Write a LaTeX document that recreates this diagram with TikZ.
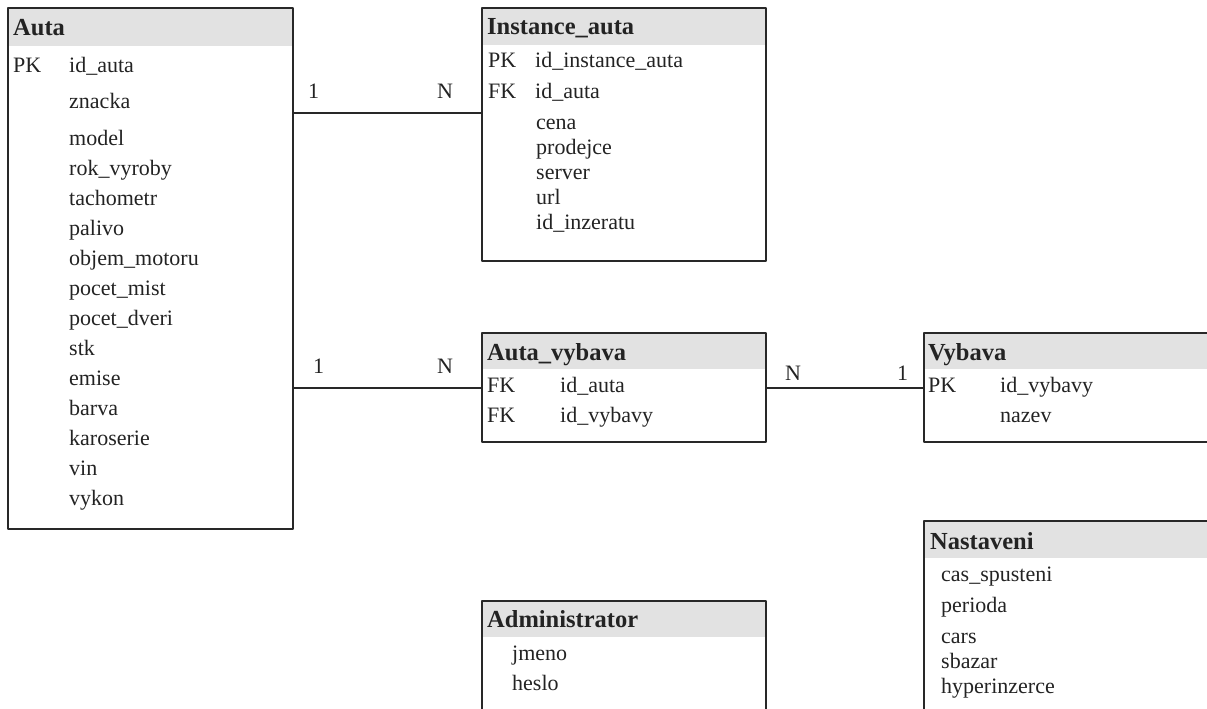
\documentclass[tikz,border=0pt]{standalone}
\usepackage{fontspec}
\setmainfont{Liberation Serif}
\definecolor{hdrgray}{RGB}{226,226,226}
\definecolor{linegray}{RGB}{40,40,40}
\definecolor{inkgray}{RGB}{35,35,35}

\begin{document}
\begin{tikzpicture}[x=1pt,y=-1pt,line cap=round,line join=round,
    tbl/.style={draw=linegray,line width=1.4pt,anchor=north west,inner sep=0pt,outer sep=0pt},
    hdr/.style={fill=hdrgray,anchor=north west,inner sep=0pt,outer sep=0pt},
    ttl/.style={anchor=base west,inner sep=0pt,font=\fontsize{24.5}{28}\selectfont\bfseries,text=inkgray},
    fld/.style={anchor=base west,inner sep=0pt,font=\fontsize{22}{26}\selectfont,text=inkgray},
    rel/.style={draw=linegray,line width=1.4pt}]
        \useasboundingbox (0,0) rectangle (1207,709);

        % Auta
        \node[hdr,minimum width=285pt,minimum height=38pt] (auta-h) at (8,8) {};
        \node[tbl,minimum width=285pt,minimum height=521pt] (auta) at (8,8) {};
        \node[ttl] (auta-t) at (13,36) {Auta};
        \node[fld] (auta-pk) at (13,73) {PK};
        \node[fld] (auta-1) at (69,73) {id\_auta};
        \node[fld] (auta-2) at (69,108) {znacka};
        \foreach \f [count=\i from 3] in {model,rok\_vyroby,tachometr,palivo,
            objem\_motoru,pocet\_mist,pocet\_dveri,stk,emise,barva,karoserie,vin,vykon}
            \node[fld] (auta-\i) at (69,{145+30*(\i-3)}) {\f};

        % Instance_auta
        \node[hdr,minimum width=284pt,minimum height=37pt] (inst-h) at (482,8) {};
        \node[tbl,minimum width=284pt,minimum height=253pt] (inst) at (482,8) {};
        \node[ttl] (inst-t) at (487,35) {Instance\_auta};
        \node[fld] (inst-pk) at (488,67) {PK};
        \node[fld] (inst-1) at (535,67) {id\_instance\_auta};
        \node[fld] (inst-fk) at (488,99) {FK};
        \node[fld] (inst-2) at (535,99) {id\_auta};
        \foreach \f [count=\i from 3] in {cena,prodejce,server,url,id\_inzeratu}
            \node[fld] (inst-\i) at (536,{129+25*(\i-3)}) {\f};

        % Auta_vybava
        \node[hdr,minimum width=284pt,minimum height=36pt] (av-h) at (482,333) {};
        \node[tbl,minimum width=284pt,minimum height=109pt] (av) at (482,333) {};
        \node[ttl] (av-t) at (487,360) {Auta\_vybava};
        \node[fld] (av-fk1) at (487,392) {FK};
        \node[fld] (av-1) at (560,392) {id\_auta};
        \node[fld] (av-fk2) at (487,422) {FK};
        \node[fld] (av-2) at (560,422) {id\_vybavy};

        % Vybava
        \node[hdr,minimum width=290pt,minimum height=36pt] (vyb-h) at (924,333) {};
        \node[tbl,minimum width=290pt,minimum height=109pt] (vyb) at (924,333) {};
        \node[ttl] (vyb-t) at (928,360) {Vybava};
        \node[fld] (vyb-pk) at (928,392) {PK};
        \node[fld] (vyb-1) at (1000,392) {id\_vybavy};
        \node[fld] (vyb-2) at (1000,422) {nazev};

        % Nastaveni
        \node[hdr,minimum width=290pt,minimum height=37pt] (nast-h) at (924,521) {};
        \node[tbl,minimum width=290pt,minimum height=200pt] (nast) at (924,521) {};
        \node[ttl] (nast-t) at (930,549) {Nastaveni};
        \node[fld] (nast-1) at (941,581) {cas\_spusteni};
        \node[fld] (nast-2) at (941,612) {perioda};
        \node[fld] (nast-3) at (941,643) {cars};
        \node[fld] (nast-4) at (941,668) {sbazar};
        \node[fld] (nast-5) at (941,693) {hyperinzerce};

        % Administrator
        \node[hdr,minimum width=284pt,minimum height=36pt] (adm-h) at (482,601) {};
        \node[tbl,minimum width=284pt,minimum height=120pt] (adm) at (482,601) {};
        \node[ttl] (adm-t) at (487,627) {Administrator};
        \node[fld] (adm-1) at (512,660) {jmeno};
        \node[fld] (adm-2) at (512,690) {heslo};

        % vazby
        \coordinate (r1) at (0,113);
        \coordinate (r2) at (0,388);
        \draw[rel] (auta.east |- r1) -- (inst.west |- r1);
        \draw[rel] (auta.east |- r2) -- (av.west |- r2);
        \draw[rel] (av.east |- r2) -- (vyb.west |- r2);
        \node[fld] (k1a) at (308,98) {1};
        \node[fld] (k1b) at (437,98) {N};
        \node[fld] (k2a) at (313,373) {1};
        \node[fld] (k2b) at (437,373) {N};
        \node[fld] (k3a) at (785,380) {N};
        \node[fld] (k3b) at (897,380) {1};
    \end{tikzpicture}
\end{document}
